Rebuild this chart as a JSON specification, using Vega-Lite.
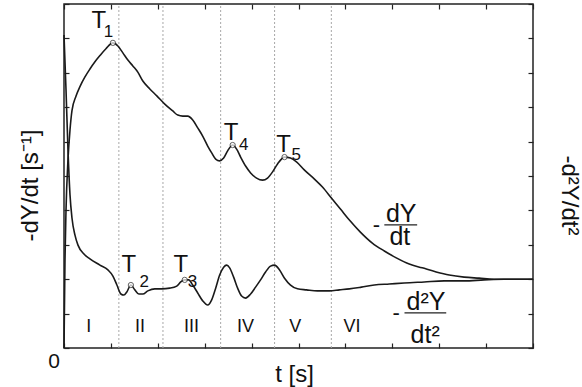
{
  "$schema": "https://vega.github.io/schema/vega-lite/v6.json",
  "width": 469,
  "height": 344,
  "autosize": "none",
  "padding": {"left": 64, "top": 4, "right": 49, "bottom": 39},
  "background": "white",
  "config": {
    "view": {"stroke": "#222", "strokeWidth": 1.5},
    "font": "Liberation Sans",
    "text": {"font": "Liberation Sans", "color": "#111"}
  },
  "datasets": {
    "curves": [
      {"t": 0, "v": 0, "s": "dY"},
      {"t": 0.021, "v": 2.56, "s": "dY"},
      {"t": 0.043, "v": 4.01, "s": "dY"},
      {"t": 0.085, "v": 5.47, "s": "dY"},
      {"t": 0.128, "v": 6.34, "s": "dY"},
      {"t": 0.17, "v": 6.9, "s": "dY"},
      {"t": 0.255, "v": 7.32, "s": "dY"},
      {"t": 0.34, "v": 7.6, "s": "dY"},
      {"t": 0.447, "v": 7.88, "s": "dY"},
      {"t": 0.553, "v": 8.11, "s": "dY"},
      {"t": 0.66, "v": 8.32, "s": "dY"},
      {"t": 0.766, "v": 8.5, "s": "dY"},
      {"t": 0.894, "v": 8.7, "s": "dY"},
      {"t": 1.043, "v": 8.87, "s": "dY"},
      {"t": 1.149, "v": 8.78, "s": "dY"},
      {"t": 1.255, "v": 8.58, "s": "dY"},
      {"t": 1.362, "v": 8.37, "s": "dY"},
      {"t": 1.468, "v": 8.2, "s": "dY"},
      {"t": 1.574, "v": 8.02, "s": "dY"},
      {"t": 1.681, "v": 7.76, "s": "dY"},
      {"t": 1.83, "v": 7.53, "s": "dY"},
      {"t": 1.979, "v": 7.33, "s": "dY"},
      {"t": 2.149, "v": 7.09, "s": "dY"},
      {"t": 2.319, "v": 6.89, "s": "dY"},
      {"t": 2.426, "v": 6.77, "s": "dY"},
      {"t": 2.532, "v": 6.74, "s": "dY"},
      {"t": 2.638, "v": 6.74, "s": "dY"},
      {"t": 2.745, "v": 6.63, "s": "dY"},
      {"t": 2.851, "v": 6.4, "s": "dY"},
      {"t": 2.957, "v": 6.16, "s": "dY"},
      {"t": 3.064, "v": 5.87, "s": "dY"},
      {"t": 3.149, "v": 5.67, "s": "dY"},
      {"t": 3.234, "v": 5.49, "s": "dY"},
      {"t": 3.319, "v": 5.44, "s": "dY"},
      {"t": 3.404, "v": 5.52, "s": "dY"},
      {"t": 3.489, "v": 5.73, "s": "dY"},
      {"t": 3.596, "v": 5.9, "s": "dY"},
      {"t": 3.681, "v": 5.78, "s": "dY"},
      {"t": 3.766, "v": 5.55, "s": "dY"},
      {"t": 3.872, "v": 5.29, "s": "dY"},
      {"t": 3.979, "v": 5.09, "s": "dY"},
      {"t": 4.106, "v": 4.94, "s": "dY"},
      {"t": 4.234, "v": 4.88, "s": "dY"},
      {"t": 4.34, "v": 4.94, "s": "dY"},
      {"t": 4.447, "v": 5.12, "s": "dY"},
      {"t": 4.553, "v": 5.35, "s": "dY"},
      {"t": 4.702, "v": 5.55, "s": "dY"},
      {"t": 4.83, "v": 5.52, "s": "dY"},
      {"t": 4.957, "v": 5.41, "s": "dY"},
      {"t": 5.128, "v": 5.17, "s": "dY"},
      {"t": 5.34, "v": 4.91, "s": "dY"},
      {"t": 5.511, "v": 4.68, "s": "dY"},
      {"t": 5.702, "v": 4.36, "s": "dY"},
      {"t": 5.894, "v": 4.04, "s": "dY"},
      {"t": 6.085, "v": 3.72, "s": "dY"},
      {"t": 6.319, "v": 3.37, "s": "dY"},
      {"t": 6.574, "v": 3.05, "s": "dY"},
      {"t": 6.83, "v": 2.82, "s": "dY"},
      {"t": 7.085, "v": 2.62, "s": "dY"},
      {"t": 7.362, "v": 2.44, "s": "dY"},
      {"t": 7.638, "v": 2.33, "s": "dY"},
      {"t": 7.936, "v": 2.21, "s": "dY"},
      {"t": 8.213, "v": 2.12, "s": "dY"},
      {"t": 8.532, "v": 2.06, "s": "dY"},
      {"t": 8.851, "v": 2.03, "s": "dY"},
      {"t": 9.17, "v": 2.0, "s": "dY"},
      {"t": 9.489, "v": 2.0, "s": "dY"},
      {"t": 10, "v": 2.0, "s": "dY"},
      {"t": 0, "v": 9.1, "s": "d2Y"},
      {"t": 0.043, "v": 7.5, "s": "d2Y"},
      {"t": 0.085, "v": 5.76, "s": "d2Y"},
      {"t": 0.128, "v": 4.45, "s": "d2Y"},
      {"t": 0.17, "v": 3.78, "s": "d2Y"},
      {"t": 0.234, "v": 3.28, "s": "d2Y"},
      {"t": 0.298, "v": 2.99, "s": "d2Y"},
      {"t": 0.426, "v": 2.73, "s": "d2Y"},
      {"t": 0.553, "v": 2.59, "s": "d2Y"},
      {"t": 0.766, "v": 2.41, "s": "d2Y"},
      {"t": 0.936, "v": 2.27, "s": "d2Y"},
      {"t": 1.043, "v": 2.09, "s": "d2Y"},
      {"t": 1.128, "v": 1.83, "s": "d2Y"},
      {"t": 1.213, "v": 1.57, "s": "d2Y"},
      {"t": 1.277, "v": 1.54, "s": "d2Y"},
      {"t": 1.34, "v": 1.63, "s": "d2Y"},
      {"t": 1.426, "v": 1.83, "s": "d2Y"},
      {"t": 1.511, "v": 1.69, "s": "d2Y"},
      {"t": 1.596, "v": 1.57, "s": "d2Y"},
      {"t": 1.681, "v": 1.57, "s": "d2Y"},
      {"t": 1.787, "v": 1.66, "s": "d2Y"},
      {"t": 1.936, "v": 1.72, "s": "d2Y"},
      {"t": 2.085, "v": 1.72, "s": "d2Y"},
      {"t": 2.255, "v": 1.74, "s": "d2Y"},
      {"t": 2.404, "v": 1.8, "s": "d2Y"},
      {"t": 2.489, "v": 1.92, "s": "d2Y"},
      {"t": 2.574, "v": 1.98, "s": "d2Y"},
      {"t": 2.66, "v": 1.98, "s": "d2Y"},
      {"t": 2.745, "v": 1.83, "s": "d2Y"},
      {"t": 2.851, "v": 1.6, "s": "d2Y"},
      {"t": 2.957, "v": 1.37, "s": "d2Y"},
      {"t": 3.064, "v": 1.25, "s": "d2Y"},
      {"t": 3.149, "v": 1.4, "s": "d2Y"},
      {"t": 3.234, "v": 1.74, "s": "d2Y"},
      {"t": 3.319, "v": 2.12, "s": "d2Y"},
      {"t": 3.404, "v": 2.35, "s": "d2Y"},
      {"t": 3.468, "v": 2.41, "s": "d2Y"},
      {"t": 3.532, "v": 2.33, "s": "d2Y"},
      {"t": 3.617, "v": 2.06, "s": "d2Y"},
      {"t": 3.702, "v": 1.74, "s": "d2Y"},
      {"t": 3.787, "v": 1.51, "s": "d2Y"},
      {"t": 3.872, "v": 1.45, "s": "d2Y"},
      {"t": 3.979, "v": 1.57, "s": "d2Y"},
      {"t": 4.085, "v": 1.77, "s": "d2Y"},
      {"t": 4.191, "v": 1.98, "s": "d2Y"},
      {"t": 4.298, "v": 2.21, "s": "d2Y"},
      {"t": 4.404, "v": 2.38, "s": "d2Y"},
      {"t": 4.489, "v": 2.41, "s": "d2Y"},
      {"t": 4.596, "v": 2.27, "s": "d2Y"},
      {"t": 4.702, "v": 2.03, "s": "d2Y"},
      {"t": 4.83, "v": 1.83, "s": "d2Y"},
      {"t": 4.979, "v": 1.72, "s": "d2Y"},
      {"t": 5.17, "v": 1.69, "s": "d2Y"},
      {"t": 5.404, "v": 1.66, "s": "d2Y"},
      {"t": 5.66, "v": 1.66, "s": "d2Y"},
      {"t": 5.872, "v": 1.69, "s": "d2Y"},
      {"t": 6.085, "v": 1.72, "s": "d2Y"},
      {"t": 6.34, "v": 1.77, "s": "d2Y"},
      {"t": 6.617, "v": 1.83, "s": "d2Y"},
      {"t": 6.936, "v": 1.86, "s": "d2Y"},
      {"t": 7.255, "v": 1.89, "s": "d2Y"},
      {"t": 7.681, "v": 1.92, "s": "d2Y"},
      {"t": 8.106, "v": 1.95, "s": "d2Y"},
      {"t": 8.532, "v": 1.95, "s": "d2Y"},
      {"t": 8.957, "v": 1.98, "s": "d2Y"},
      {"t": 9.383, "v": 2.0, "s": "d2Y"},
      {"t": 10, "v": 2.0, "s": "d2Y"}
    ],
    "dividers": [{"t": 1.17}, {"t": 2.11}, {"t": 3.34}, {"t": 4.49}, {"t": 5.7}],
    "markers": [
      {"t": 1.043, "v": 8.87},
      {"t": 1.426, "v": 1.83},
      {"t": 2.574, "v": 1.98},
      {"t": 3.596, "v": 5.9},
      {"t": 4.702, "v": 5.55}
    ],
    "tLetters": [
      {"t": 0.74, "v": 9.3, "text": "T"},
      {"t": 1.38, "v": 2.21, "text": "T"},
      {"t": 2.49, "v": 2.21, "text": "T"},
      {"t": 3.56, "v": 6.05, "text": "T"},
      {"t": 4.68, "v": 5.7, "text": "T"}
    ],
    "tSubs": [
      {"t": 0.95, "v": 9.04, "text": "1"},
      {"t": 1.71, "v": 1.77, "text": "2"},
      {"t": 2.74, "v": 1.77, "text": "3"},
      {"t": 3.83, "v": 5.76, "text": "4"},
      {"t": 4.95, "v": 5.47, "text": "5"}
    ],
    "numerals": [
      {"t": 0.53, "v": 0.47, "text": "I"},
      {"t": 1.62, "v": 0.47, "text": "II"},
      {"t": 2.72, "v": 0.47, "text": "III"},
      {"t": 3.87, "v": 0.47, "text": "IV"},
      {"t": 4.93, "v": 0.47, "text": "V"},
      {"t": 6.14, "v": 0.47, "text": "VI"}
    ],
    "fracText": [
      {"t": 7.19, "v": 3.66, "text": "dY"},
      {"t": 7.16, "v": 2.99, "text": "dt"},
      {"t": 7.72, "v": 1.1, "text": "d²Y"},
      {"t": 7.7, "v": 0.145, "text": "dt²"}
    ],
    "fracMinus": [
      {"t": 6.66, "v": 3.58, "text": "-"},
      {"t": 7.08, "v": 1.02, "text": "-"}
    ],
    "fracBars": [
      {"t": 6.83, "t2": 7.53, "v": 3.58},
      {"t": 7.26, "t2": 8.15, "v": 1.02}
    ],
    "origin": [{"t": 0, "v": 0, "text": "0"}]
  },
  "resolve": {"axis": {"x": "independent", "y": "independent"}},
  "layer": [
    {
      "data": {"name": "dividers"},
      "mark": {"type": "rule", "color": "#a8a8a8", "strokeDash": [2, 2], "strokeWidth": 1},
      "encoding": {
        "x": {"field": "t", "type": "quantitative",
          "scale": {"domain": [0, 10], "nice": false, "zero": false},
          "axis": {"orient": "bottom", "domain": false, "labels": false, "grid": false,
            "values": [0, 1, 2, 3, 4, 5, 6, 7, 8, 9, 10], "tickSize": -5, "tickColor": "#222", "tickWidth": 1.2,
            "title": "t [s]", "titleFontSize": 24, "titleFontWeight": "normal", "titleColor": "#111",
            "titleFont": "Liberation Sans", "titleX": 230, "titleY": 33, "titleAlign": "center", "titleBaseline": "alphabetic"}},
        "y": {"datum": 0, "type": "quantitative",
          "scale": {"domain": [0, 10], "nice": false, "zero": false},
          "axis": {"orient": "left", "domain": false, "labels": false, "grid": false,
            "values": [0, 1, 2, 3, 4, 5, 6, 7, 8, 9, 10], "tickSize": -5, "tickColor": "#222", "tickWidth": 1.2,
            "title": "-dY/dt [s⁻¹]", "titleFontSize": 24, "titleFontWeight": "normal", "titleColor": "#111",
            "titleFont": "Liberation Sans", "titleAngle": -90, "titleX": -34, "titleY": 181, "titleAlign": "center", "titleBaseline": "middle"}},
        "y2": {"datum": 10}
      }
    },
    {
      "data": {"name": "curves"},
      "mark": {"type": "line", "color": "#1a1a1a", "strokeWidth": 1.6, "interpolate": "monotone"},
      "encoding": {
        "x": {"field": "t", "type": "quantitative", "scale": {"domain": [0, 10], "nice": false, "zero": false},
          "axis": {"orient": "top", "domain": false, "labels": false, "grid": false,
            "values": [0, 1, 2, 3, 4, 5, 6, 7, 8, 9, 10], "tickSize": -5, "tickColor": "#222", "tickWidth": 1.2, "title": null}},
        "y": {"field": "v", "type": "quantitative", "scale": {"domain": [0, 10], "nice": false, "zero": false},
          "axis": {"orient": "right", "domain": false, "labels": false, "grid": false,
            "values": [0, 1, 2, 3, 4, 5, 6, 7, 8, 9, 10], "tickSize": -5, "tickColor": "#222", "tickWidth": 1.2,
            "title": "-d²Y/dt²", "titleFontSize": 24, "titleFontWeight": "normal", "titleColor": "#111",
            "titleFont": "Liberation Sans", "titleAngle": 90, "titleX": 35, "titleY": 191, "titleAlign": "center", "titleBaseline": "middle"}},
        "detail": {"field": "s", "type": "nominal"}
      }
    },
    {
      "data": {"name": "markers"},
      "mark": {"type": "point", "shape": "circle", "size": 28, "filled": true, "fill": "white", "stroke": "#222", "strokeWidth": 1},
      "encoding": {
        "x": {"field": "t", "type": "quantitative", "axis": null},
        "y": {"field": "v", "type": "quantitative", "axis": null}
      }
    },
    {
      "data": {"name": "tLetters"},
      "mark": {"type": "text", "fontSize": 24, "align": "center", "baseline": "alphabetic"},
      "encoding": {
        "x": {"field": "t", "type": "quantitative", "axis": null},
        "y": {"field": "v", "type": "quantitative", "axis": null},
        "text": {"field": "text"}
      }
    },
    {
      "data": {"name": "tSubs"},
      "mark": {"type": "text", "fontSize": 17, "align": "center", "baseline": "alphabetic"},
      "encoding": {
        "x": {"field": "t", "type": "quantitative", "axis": null},
        "y": {"field": "v", "type": "quantitative", "axis": null},
        "text": {"field": "text"}
      }
    },
    {
      "data": {"name": "numerals"},
      "mark": {"type": "text", "fontSize": 18, "align": "center", "baseline": "alphabetic"},
      "encoding": {
        "x": {"field": "t", "type": "quantitative", "axis": null},
        "y": {"field": "v", "type": "quantitative", "axis": null},
        "text": {"field": "text"}
      }
    },
    {
      "data": {"name": "fracText"},
      "mark": {"type": "text", "fontSize": 25, "align": "center", "baseline": "alphabetic"},
      "encoding": {
        "x": {"field": "t", "type": "quantitative", "axis": null},
        "y": {"field": "v", "type": "quantitative", "axis": null},
        "text": {"field": "text"}
      }
    },
    {
      "data": {"name": "fracMinus"},
      "mark": {"type": "text", "fontSize": 22, "align": "center", "baseline": "middle"},
      "encoding": {
        "x": {"field": "t", "type": "quantitative", "axis": null},
        "y": {"field": "v", "type": "quantitative", "axis": null},
        "text": {"field": "text"}
      }
    },
    {
      "data": {"name": "fracBars"},
      "mark": {"type": "rule", "color": "#222", "strokeWidth": 1.3},
      "encoding": {
        "x": {"field": "t", "type": "quantitative", "axis": null},
        "x2": {"field": "t2"},
        "y": {"field": "v", "type": "quantitative", "axis": null}
      }
    },
    {
      "data": {"name": "origin"},
      "mark": {"type": "text", "fontSize": 21, "align": "center", "baseline": "middle", "dx": -10, "dy": 14},
      "encoding": {
        "x": {"field": "t", "type": "quantitative", "axis": null},
        "y": {"field": "v", "type": "quantitative", "axis": null},
        "text": {"field": "text"}
      }
    }
  ]
}
